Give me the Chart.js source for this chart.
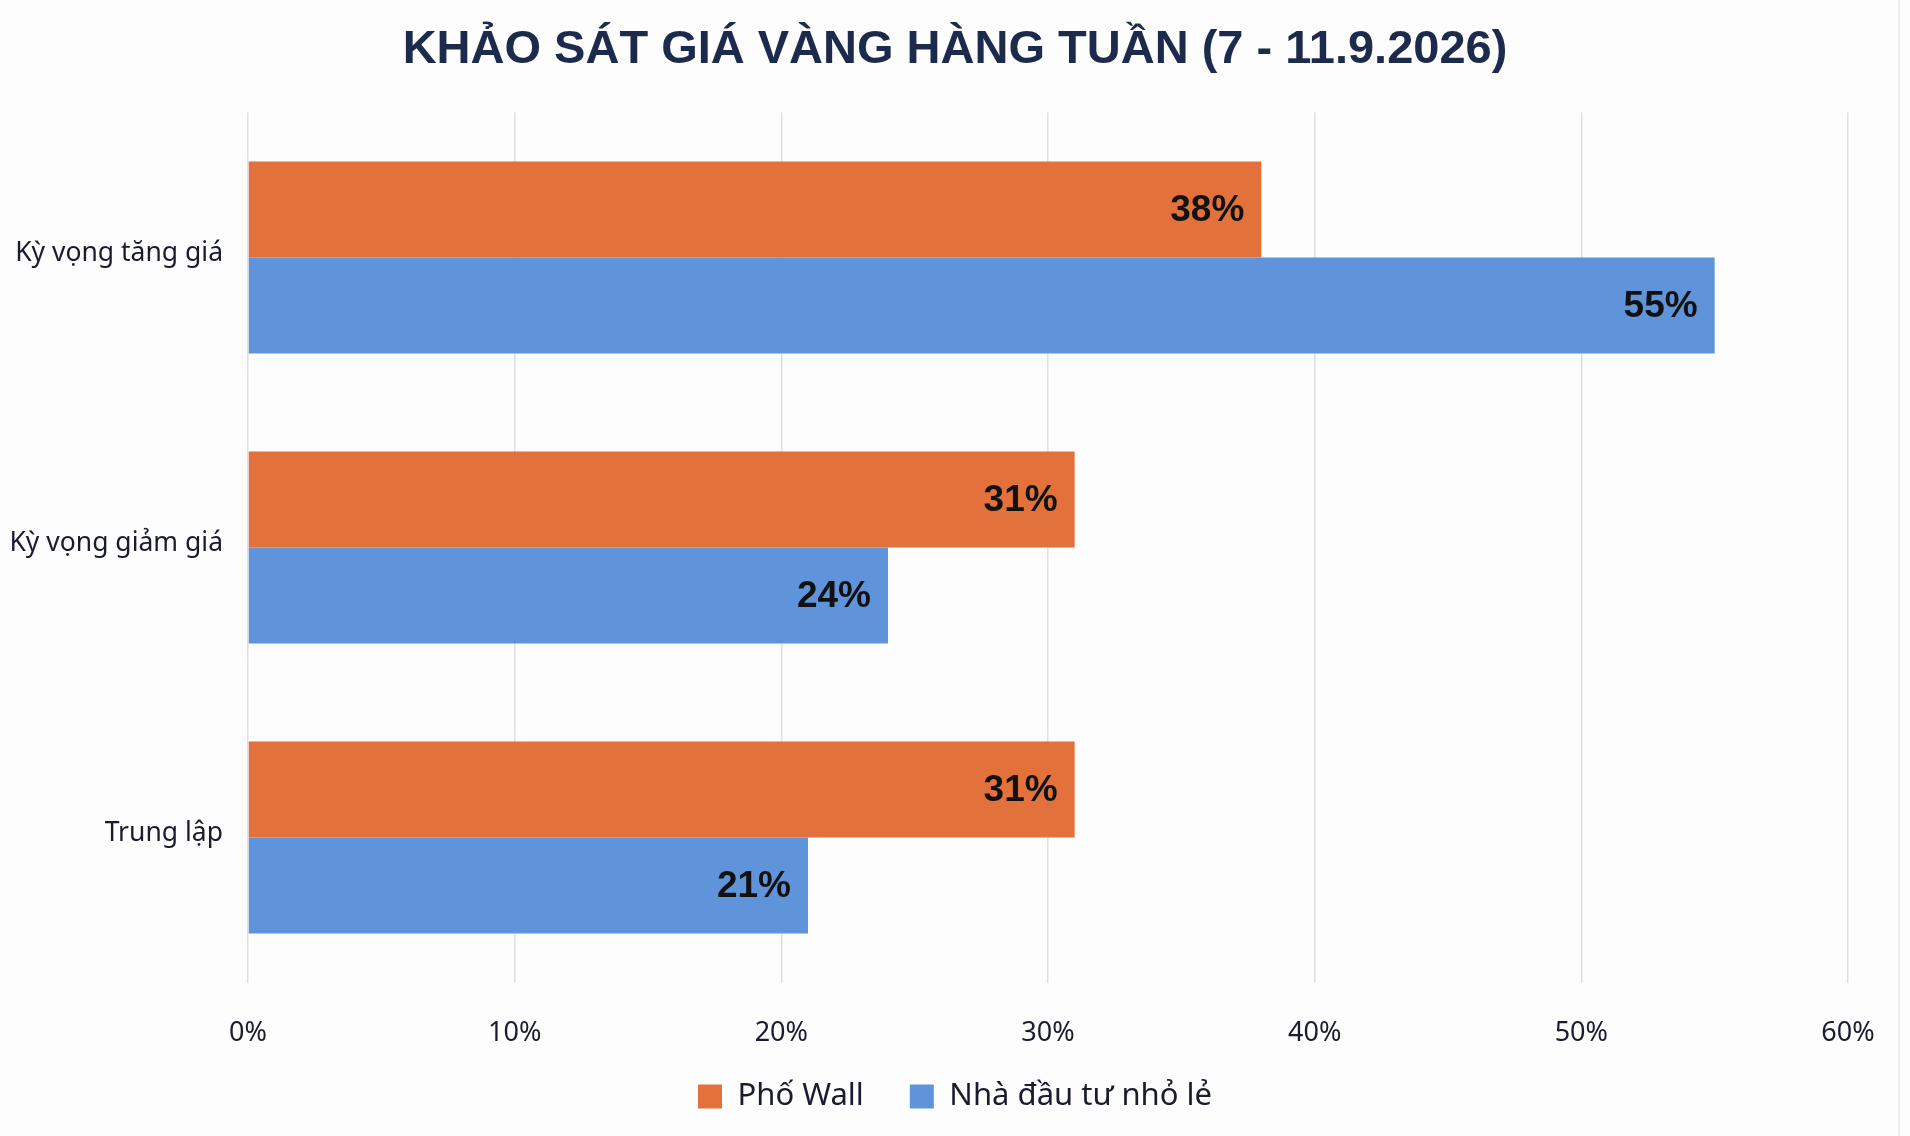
<!DOCTYPE html>
<html lang="vi">
<head>
<meta charset="utf-8">
<title>Khảo sát giá vàng hàng tuần</title>
<script src="https://cdn.jsdelivr.net/npm/chart.js@4.4.1/dist/chart.umd.min.js"></script>
<style>
  html, body { margin: 0; padding: 0; background: #fdfdfd; }
  #wrap { position: relative; width: 1910px; height: 1136px; }
  #wrap::after { content: ''; position: absolute; left: 1898px; top: 0; width: 2px; height: 1136px; background: #ececf1; }
</style>
</head>
<body>
<div id="wrap"><canvas id="goldChart" width="1910" height="1136"></canvas></div>
<script>
const categories = ['Kỳ vọng tăng giá', 'Kỳ vọng giảm giá', 'Trung lập'];
const wallStreet = [38, 31, 31]; // Phố Wall
const retail = [55, 24, 21]; // Nhà đầu tư nhỏ lẻ
const seriesNames = ['Phố Wall', 'Nhà đầu tư nhỏ lẻ'];
const xTicks = [0, 10, 20, 30, 40, 50, 60];

const textColor = '#1a1c2e';
const sansFont = '"Noto Sans", "Open Sans", sans-serif';

// số % in đậm ở đầu mỗi thanh
const barLabels = {
    id: 'barLabels',
    afterDatasetsDraw(chart) {
        const c = chart.ctx;
        c.save();
        c.font = 'bold 37px "Liberation Sans", Arial, sans-serif';
        c.fillStyle = '#111111';
        c.textAlign = 'right';
        c.textBaseline = 'middle';
        chart.data.datasets.forEach((ds, i) => {
            chart.getDatasetMeta(i).data.forEach((bar, j) => {
                c.fillText(ds.data[j] + '%', bar.x - 17, bar.y + 1);
            });
        });
        c.restore();
    },
};

// legend nằm sát trục hơn (padding lớn chỉ để giãn 2 mục)
const legendLift = {
    id: 'legendLift',
    afterLayout(chart) {
        chart.legend.top -= 50;
        chart.legend.bottom -= 50;
    },
};

const ctx = document.getElementById('goldChart').getContext('2d');
const goldChart = new Chart(ctx, {
    type: 'bar',
    data: {
        labels: categories,
        datasets: [
            {
                label: seriesNames[0],
                data: wallStreet,
                backgroundColor: '#e2713b',
                categoryPercentage: 0.662,
                barPercentage: 1.0,
            },
            {
                label: seriesNames[1],
                data: retail,
                backgroundColor: '#5f94da',
                categoryPercentage: 0.662,
                barPercentage: 1.0,
            },
        ],
    },
    options: {
        indexAxis: 'y',
        responsive: false,
        animation: false,
        devicePixelRatio: 1,
        layout: {
            padding: { top: 0, left: 0, right: 0, bottom: -31 },
        },
        plugins: {
            title: {
                display: true,
                text: 'KHẢO SÁT GIÁ VÀNG HÀNG TUẦN (7 - 11.9.2026)',
                color: '#1c2a4c',
                font: { family: '"Liberation Sans", Arial, sans-serif', size: 47, weight: 'bold' },
                padding: { top: 22, bottom: 34 },
            },
            legend: {
                display: true,
                position: 'bottom',
                maxHeight: 82,
                labels: {
                    color: textColor,
                    font: { family: sansFont, size: 31 },
                    boxWidth: 24,
                    boxHeight: 24,
                    padding: 46,
                },
            },
            tooltip: { enabled: false },
        },
        scales: {
            x: {
                min: 0,
                max: 60,
                afterBuildTicks: (scale) => {
                    scale.ticks = xTicks.map((v) => ({ value: v }));
                },
                ticks: {
                    color: textColor,
                    font: { family: sansFont, size: 27 },
                    padding: 35,
                    callback: (v) => v + '%',
                },
                grid: {
                    color: '#dde0ec',
                    lineWidth: 1.5,
                    drawTicks: false,
                },
                border: { display: false },
            },
            y: {
                afterFit: (scale) => {
                    scale.width = 248;
                },
                ticks: {
                    color: textColor,
                    font: { family: sansFont, size: 26.5 },
                    padding: 25,
                    labelOffset: -4,
                },
                grid: { display: false, drawTicks: false },
                border: { display: false },
            },
            // khoảng trống bên phải, giữ tiêu đề và chú thích ở giữa
            yRight: {
                type: 'category',
                position: 'right',
                display: true,
                afterFit: (scale) => {
                    scale.width = 62;
                },
                ticks: { display: false },
                grid: { display: false, drawTicks: false },
                border: { display: false },
            },
        },
    },
    plugins: [barLabels, legendLift],
});
</script>
</body>
</html>
